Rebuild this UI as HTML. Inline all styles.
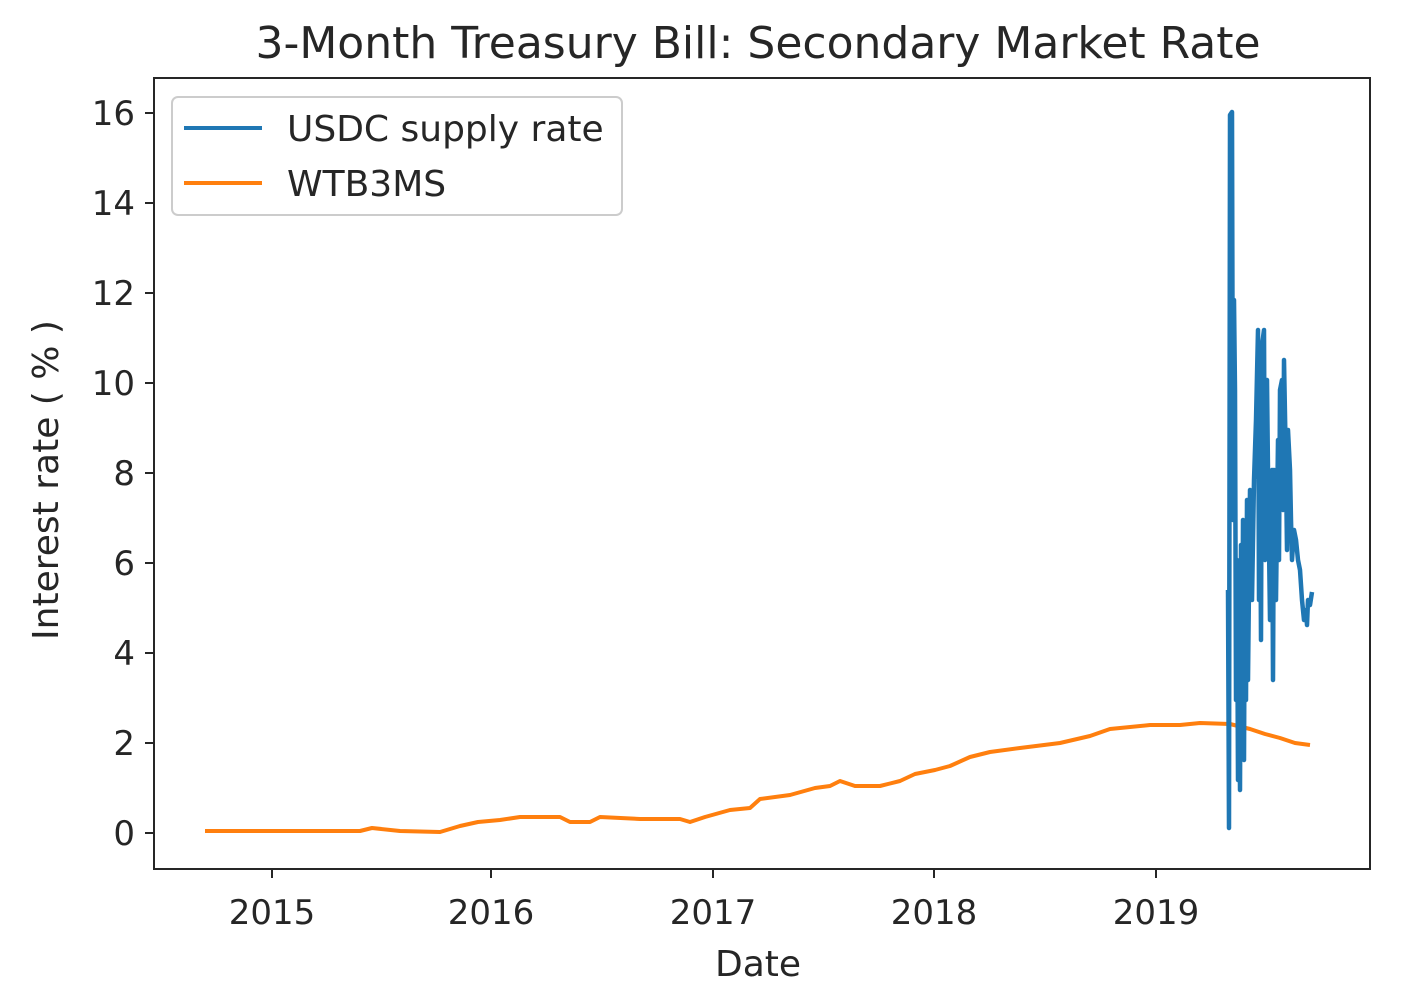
<!DOCTYPE html>
<html><head><meta charset="utf-8"><style>
html,body{margin:0;padding:0;background:#fff;}
svg{display:block;}
text{font-family:"DejaVu Sans","Liberation Sans",sans-serif;fill:#262626;}
</style></head><body>
<svg width="1402" height="1006" viewBox="0 0 1402 1006" xmlns="http://www.w3.org/2000/svg">
<text x="758" y="58" font-size="44" text-anchor="middle">3-Month Treasury Bill: Secondary Market Rate</text>
<g stroke="#262626" stroke-width="2">
<line x1="154" y1="113" x2="145" y2="113"/><line x1="154" y1="203" x2="145" y2="203"/>
<line x1="154" y1="293" x2="145" y2="293"/><line x1="154" y1="383" x2="145" y2="383"/>
<line x1="154" y1="473" x2="145" y2="473"/><line x1="154" y1="563" x2="145" y2="563"/>
<line x1="154" y1="653" x2="145" y2="653"/><line x1="154" y1="743" x2="145" y2="743"/>
<line x1="154" y1="833" x2="145" y2="833"/>
<line x1="272" y1="869" x2="272" y2="878"/><line x1="491" y1="869" x2="491" y2="878"/>
<line x1="713" y1="869" x2="713" y2="878"/><line x1="934" y1="869" x2="934" y2="878"/>
<line x1="1156" y1="869" x2="1156" y2="878"/>
</g>
<g font-size="34" text-anchor="end">
<text x="135" y="125">16</text><text x="135" y="215">14</text><text x="135" y="305">12</text>
<text x="135" y="395">10</text><text x="135" y="485">8</text><text x="135" y="575">6</text>
<text x="135" y="665">4</text><text x="135" y="755">2</text><text x="135" y="845">0</text>
</g>
<g font-size="34" text-anchor="middle">
<text x="272" y="924">2015</text><text x="491" y="924">2016</text><text x="713" y="924">2017</text>
<text x="934" y="924">2018</text><text x="1156" y="924">2019</text>
</g>
<text x="758" y="976" font-size="36" text-anchor="middle">Date</text>
<text transform="translate(58,480) rotate(-90)" font-size="36" text-anchor="middle">Interest rate ( % )</text>
<polyline fill="none" stroke="#ff7f0e" stroke-width="4" stroke-linejoin="round" points="
205,831 300,831 360,831 372,828 400,831 440,832 460,826 478,822 500,820 520,817 560,817 570,822 590,822 600,817 640,819 680,819 690,822 705,817 730,810 750,808 760,799 790,795 815,788 830,786 840,781 855,786 880,786 900,781 915,774 935,770 950,766 970,757 990,752 1020,748 1060,743 1090,736 1110,729 1150,725 1180,725 1200,723 1230,724 1250,729 1265,734 1280,738 1295,743 1310,745"/>
<polyline fill="none" stroke="#1f77b4" stroke-width="4.5" stroke-linejoin="round" points="
1228,590 1229,828 1230,115 1232,112 1233,520 1234,300 1235,390 1236,700 1237,560 1238,780 1239,600 1240,790 1241,545 1242,740 1243,520 1244,760 1245,530 1246,700 1247,500 1248,680 1250,490 1252,600 1254,480 1256,420 1258,330 1259,600 1260,460 1261,640 1262,345 1264,330 1265,560 1266,470 1267,380 1268,470 1270,620 1271,500 1272,470 1273,680 1274,470 1275,500 1276,600 1278,440 1279,560 1280,390 1282,380 1283,510 1284,360 1286,470 1287,550 1288,430 1290,470 1291,520 1292,560 1294,530 1296,540 1298,560 1300,570 1302,600 1304,620 1306,610 1307,625 1308,600 1310,605 1312,592"/>
<rect x="154" y="78" width="1216" height="791" fill="none" stroke="#262626" stroke-width="2"/>
<rect x="172" y="97" width="450" height="118" rx="6" fill="#fff" fill-opacity="0.8" stroke="#ccc" stroke-width="2"/>
<line x1="184" y1="128" x2="262" y2="128" stroke="#1f77b4" stroke-width="4"/>
<line x1="184" y1="183" x2="262" y2="183" stroke="#ff7f0e" stroke-width="4"/>
<text x="287" y="141" font-size="36">USDC supply rate</text>
<text x="287" y="196" font-size="36">WTB3MS</text>
</svg>
</body></html>
